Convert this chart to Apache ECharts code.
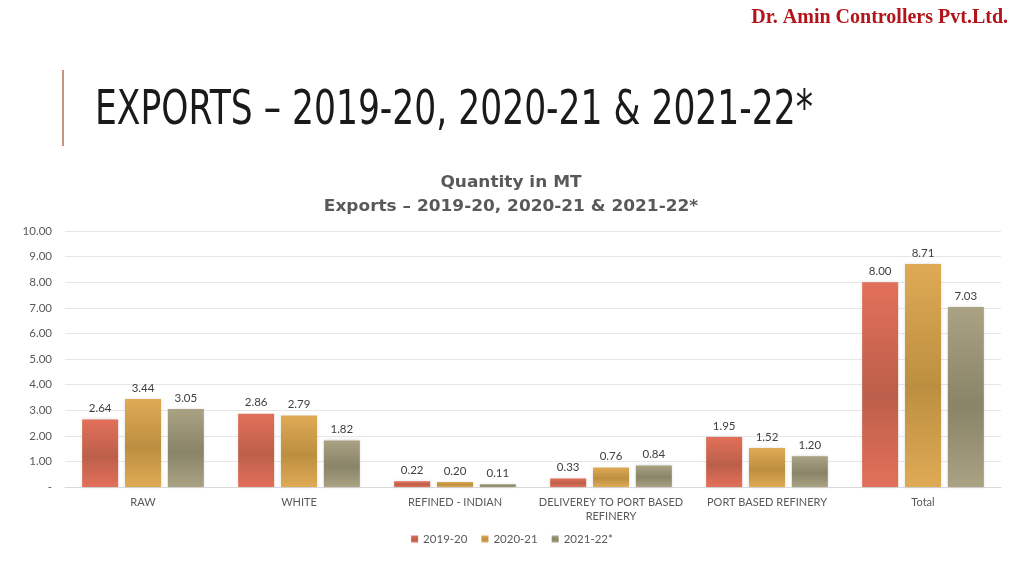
<!DOCTYPE html>
<html>
<head>
<meta charset="utf-8">
<script src="https://cdn.jsdelivr.net/npm/echarts@6/dist/echarts.min.js"></script>
<style>
html,body{margin:0;padding:0;background:#fff;}
#chart{width:1024px;height:576px;}
</style>
</head>
<body>
<div id="chart"></div>
<script>
const categories = ['RAW', 'WHITE', 'REFINED - INDIAN', 'DELIVEREY TO PORT BASED\nREFINERY', 'PORT BASED REFINERY', 'Total'];
const seriesNames = ['2019-20', '2020-21', '2021-22*'];
const values2019 = [2.64, 2.86, 0.22, 0.33, 1.95, 8.00];
const values2020 = [3.44, 2.79, 0.20, 0.76, 1.52, 8.71];
const values2021 = [3.05, 1.82, 0.11, 0.84, 1.20, 7.03];
const yTicks = {min: 0, max: 10, interval: 1};

const palette = [
  {edge: '#E2705A', mid: '#BC5F4A'},
  {edge: '#DFAA55', mid: '#BC8F40'},
  {edge: '#A9A283', mid: '#8A8468'}
];
function grad(p) {
  return {type: 'linear', x: 0, y: 0, x2: 0, y2: 1, colorStops: [
    {offset: 0, color: p.edge}, {offset: 0.55, color: p.mid}, {offset: 1, color: p.edge}
  ]};
}
const font = 'Lato, "Open Sans", sans-serif';
const titleFont = 'bold 15px "DejaVu Sans", sans-serif';
const allValues = [values2019, values2020, values2021];

const chart = echarts.init(document.getElementById('chart'), null, {renderer: 'canvas'});
chart.setOption({
  animation: false,
  backgroundColor: '#ffffff',
  color: ['#D9654F', '#D6A04A', '#9A9477'],
  graphic: [
    {type: 'text', right: 16, top: 8, style: {text: 'Dr. Amin Controllers Pvt.Ltd.', font: 'bold 20px "Liberation Serif", serif', fill: '#B3141B'}},
    {type: 'rect', shape: {x: 62, y: 70, width: 2, height: 76}, style: {fill: '#C8937E'}},
    {type: 'text', x: 95, y: 88, scaleX: 0.80, style: {text: 'EXPORTS \u2013 2019-20, 2020-21 & 2021-22*', font: '48px "Liberation Sans Narrow", "DejaVu Sans Condensed", sans-serif', fill: '#1A1A1A'}},
    {type: 'text', x: 511, y: 183, scaleX: 1.13, style: {text: 'Quantity in MT', font: titleFont, fill: '#595959', align: 'center', verticalAlign: 'middle'}},
    {type: 'text', x: 511, y: 207, scaleX: 1.13, style: {text: 'Exports \u2013 2019-20, 2020-21 & 2021-22*', font: titleFont, fill: '#595959', align: 'center', verticalAlign: 'middle'}}
  ],
  grid: {left: 65, right: 23, top: 231, bottom: 89, containLabel: false},
  legend: {
    bottom: 26, left: 'center', itemWidth: 7, itemHeight: 7, itemGap: 14, icon: 'rect',
    textStyle: {fontFamily: font, fontSize: 11.5, color: '#595959'},
    data: seriesNames
  },
  xAxis: {
    type: 'category', data: categories,
    axisLine: {lineStyle: {color: '#D9D9D9'}}, axisTick: {show: false},
    axisLabel: {fontFamily: font, fontSize: 11, color: '#595959', margin: 8, lineHeight: 14, interval: 0}
  },
  yAxis: {
    type: 'value', min: yTicks.min, max: yTicks.max, interval: yTicks.interval,
    axisLine: {show: false}, axisTick: {show: false},
    splitLine: {lineStyle: {color: '#E6E6E6'}},
    axisLabel: {fontFamily: font, fontSize: 11.5, color: '#595959', margin: 13,
      formatter: v => v === 0 ? '-' : v.toFixed(2)}
  },
  series: seriesNames.map((name, i) => ({
    name: name, type: 'bar', data: allValues[i],
    barGap: '19%', barCategoryGap: '22%',
    itemStyle: {color: grad(palette[i]), shadowColor: 'rgba(0,0,0,0.15)', shadowBlur: 3},
    label: {show: true, position: 'top', distance: 5, fontFamily: font, fontSize: 11.5, color: '#404040',
      formatter: p => p.value.toFixed(2)}
  }))
});
</script>
</body>
</html>
